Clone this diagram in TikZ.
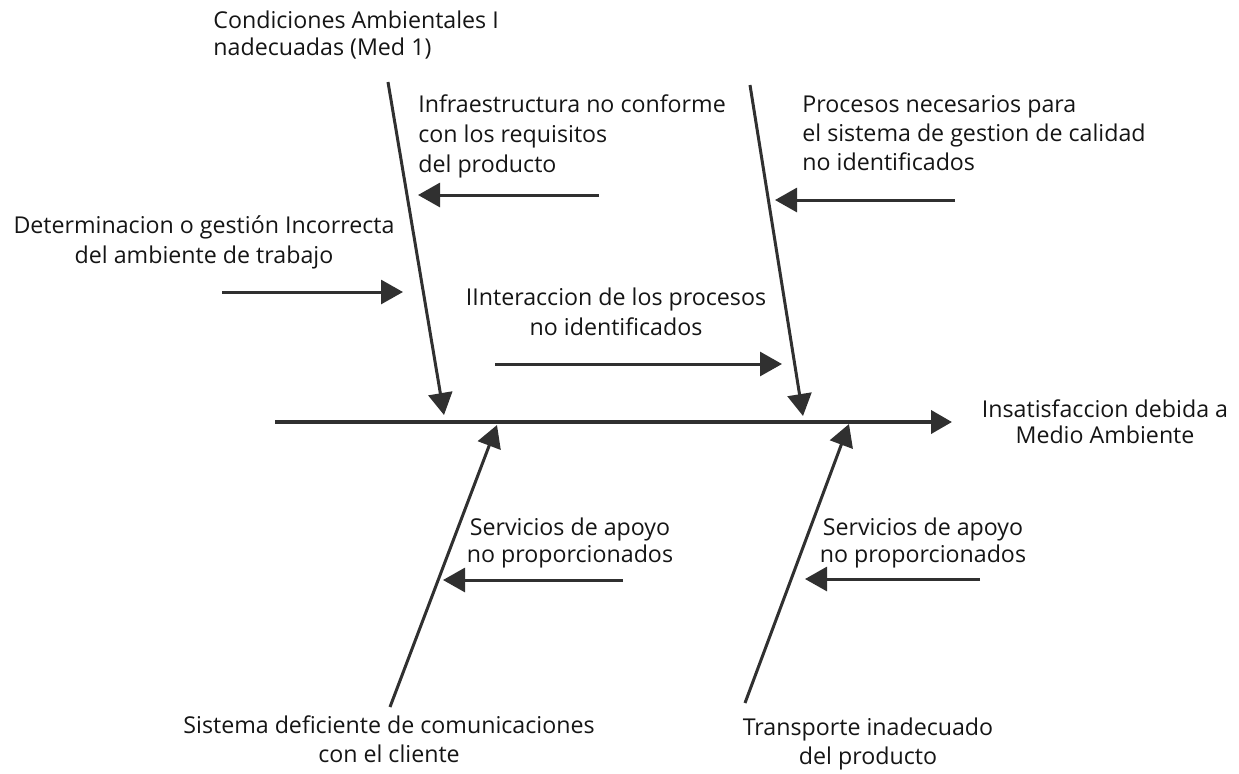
\documentclass[tikz,border=0pt]{standalone}
\usepackage{fontspec}
\setmainfont{Open Sans}
\usetikzlibrary{arrows.meta}
\definecolor{linec}{HTML}{303030}
\definecolor{textc}{HTML}{151515}
\begin{document}
\begin{tikzpicture}[x=0.5pt,y=-0.5pt,
  lbl/.style={inner sep=0pt, text=textc},
  sp27/.style={font=\fontsize{11.6}{13.5}\selectfont},
  sp26/.style={font=\fontsize{11.6}{13}\selectfont},
  sp29/.style={font=\fontsize{11.6}{14.5}\selectfont},
  sp30/.style={font=\fontsize{11.6}{15}\selectfont},
  tipA/.style={-{Triangle[length=11pt,width=12pt]}},
  spine/.style={draw=linec, line width=2pt, -{Triangle[length=10.5pt,width=11.5pt]}},
  bone/.style={draw=linec, line width=1.5pt, tipA},
  sub/.style={draw=linec, line width=1.5pt, tipA}]
\useasboundingbox (0,0) rectangle (1239,773);

% coordinates
\coordinate (s0) at (275,422);
\coordinate (s1) at (952,422);
\coordinate (ul0) at (388,82);
\coordinate (ul1) at (444,415);
\coordinate (ur0) at (750,85);
\coordinate (ur1) at (803,416);
\coordinate (ll0) at (390,707);
\coordinate (ll1) at (497,425);
\coordinate (lr0) at (745,703);
\coordinate (lr1) at (849,424);
\coordinate (a10) at (599,195);
\coordinate (a11) at (418,195);
\coordinate (a20) at (955,200);
\coordinate (a21) at (775,200);
\coordinate (a30) at (222,292);
\coordinate (a31) at (403,292);
\coordinate (a40) at (495,364);
\coordinate (a41) at (782,364);
\coordinate (a50) at (623,580);
\coordinate (a51) at (443,580);
\coordinate (a60) at (980,579);
\coordinate (a61) at (805,579);

% connectors
\draw[spine] (s0) -- (s1);
\draw[bone] (ul0) -- (ul1);
\draw[bone] (ur0) -- (ur1);
\draw[bone] (ll0) -- (ll1);
\draw[bone] (lr0) -- (lr1);
\draw[sub] (a10) -- (a11);
\draw[sub] (a20) -- (a21);
\draw[sub] (a30) -- (a31);
\draw[sub] (a40) -- (a41);
\draw[sub] (a50) -- (a51);
\draw[sub] (a60) -- (a61);

% labels
\node[lbl, sp27, align=left, anchor=north west] (tcond) at (213,9)
  {\strut Condiciones Ambientales I\\nadecuadas (Med 1)};
\node[lbl, sp30, align=left, anchor=north west] (tinfra) at (418,91)
  {\strut Infraestructura no conforme\\con los requisitos\\del producto};
\node[lbl, sp29, align=left, anchor=north west] (tproc) at (802,92)
  {\strut Procesos necesarios para\\el sistema de gestion de calidad\\no identificados};
\node[lbl, sp30, align=center, anchor=north] (tdet) at (204,212)
  {\strut Determinacion o gestión Incorrecta\\del ambiente de trabajo};
\node[lbl, sp30, align=center, anchor=north] (tinter) at (616,284)
  {\strut IInteraccion de los procesos\\no identificados};
\node[lbl, sp26, align=center, anchor=north] (tinsat) at (1105,399)
  {\strut Insatisfaccion debida a\\Medio Ambiente};
\node[lbl, sp27, align=center, anchor=north] (tserv1) at (570,516)
  {\strut Servicios de apoyo\\no proporcionados};
\node[lbl, sp27, align=center, anchor=north] (tserv2) at (923,516)
  {\strut Servicios de apoyo\\no proporcionados};
\node[lbl, sp29, align=center, anchor=north] (tsist) at (389,713)
  {\strut Sistema deficiente de comunicaciones\\con el cliente};
\node[lbl, sp29, align=center, anchor=north] (ttrans) at (868,715)
  {\strut Transporte inadecuado\\del producto};
\end{tikzpicture}
\end{document}
